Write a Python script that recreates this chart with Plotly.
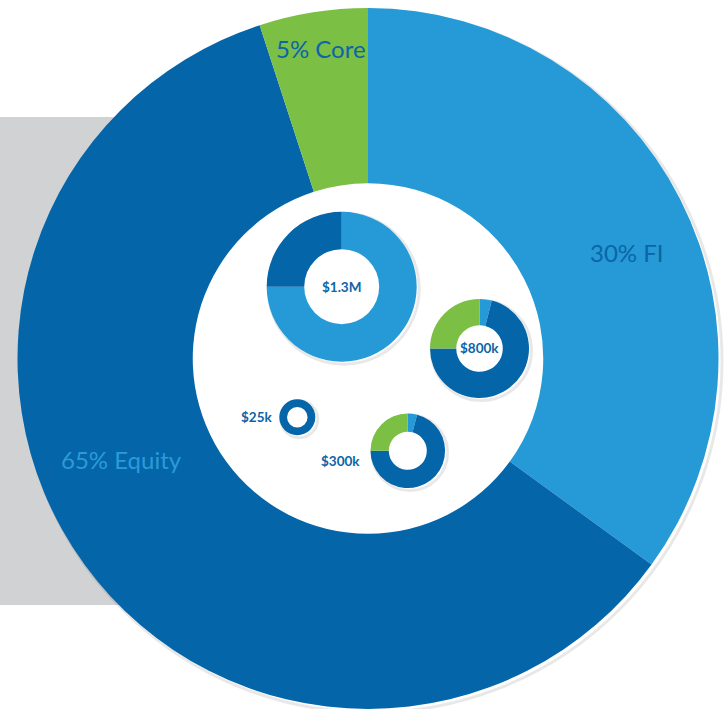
import plotly.graph_objects as go

W, H = 728, 709

# ---- data ----
slice_names = ["FI", "Equity", "Core"]
main_values = [35, 60, 5]                      # drawn shares of the big ring
main_labels = ["30% FI", "65% Equity", "5% Core"]

portfolio_names = ["$1.3M", "$800k", "$300k", "$25k"]
fi_share = [75, 4, 4, 0]
equity_share = [25, 71, 71, 100]
core_share = [0, 25, 25, 0]

# ---- styles / layout geometry ----
COLORS = ["#259AD6", "#0465A9", "#7BBF44"]
DARK = "#0B65A8"
LIGHT = "#2B9BD8"
GRAY = "#D1D2D4"
FONT = "Lato"

main_geom = dict(cx=368, cy=358.5, r=350.5, hole=0.5)
small_geom = [
    dict(cx=341.7, cy=286.7, r=75, hole=0.5),
    dict(cx=479.5, cy=348.5, r=49.5, hole=0.47),
    dict(cx=407.8, cy=450.8, r=37.3, hole=0.51),
    dict(cx=297.3, cy=417.2, r=18, hole=0.57),
]
small_label_pos = [(341.7, 287), (479.7, 348), (340, 461), (256, 417)]
main_label_pos = [(627, 252, DARK), (122, 459, LIGHT), (321, 48, DARK)]


def dom(g):
    cx, cy, r = g["cx"], g["cy"], g["r"]
    return dict(x=[max(0, (cx - r) / W), min(1, (cx + r) / W)],
                y=[max(0, 1 - (cy + r) / H), min(1, 1 - (cy - r) / H)])


def px(x, y):
    return x / W, 1 - y / H


fig = go.Figure()

fig.add_trace(go.Pie(
    labels=slice_names, values=main_values, hole=main_geom["hole"],
    sort=False, direction="clockwise", rotation=0,
    marker=dict(colors=COLORS, line=dict(width=0)),
    textinfo="none", hoverinfo="label+value", showlegend=False,
    domain=dom(main_geom),
))

for i, name in enumerate(portfolio_names):
    g = small_geom[i]
    fig.add_trace(go.Pie(
        labels=slice_names,
        values=[fi_share[i], equity_share[i], core_share[i]],
        hole=g["hole"], sort=False, direction="clockwise", rotation=0,
        marker=dict(colors=COLORS, line=dict(width=0)),
        textinfo="none", hoverinfo="label+value", showlegend=False,
        name=name, domain=dom(g),
    ))

annotations = []
for (x, y, c), t in zip(main_label_pos, main_labels):
    ax, ay = px(x, y)
    annotations.append(dict(x=ax, y=ay, xref="paper", yref="paper",
                            text=t, showarrow=False, xanchor="center",
                            yanchor="middle",
                            font=dict(family=FONT, size=24, color=c)))
for (x, y), t in zip(small_label_pos, portfolio_names):
    ax, ay = px(x, y)
    annotations.append(dict(x=ax, y=ay, xref="paper", yref="paper",
                            text="<b>" + t + "</b>", showarrow=False,
                            xanchor="center", yanchor="middle",
                            font=dict(family=FONT, size=13.5, color=DARK)))

shapes = [
    dict(type="rect", xref="paper", yref="paper", layer="below",
         x0=0, x1=px(150, 0)[0], y0=px(0, 605)[1], y1=px(0, 117)[1],
         fillcolor=GRAY, line=dict(width=0)),
]
# soft drop shadows
for g, off in [(main_geom, 3)] + [(s, 2) for s in small_geom]:
    cx, cy, r = g["cx"] + off, g["cy"] + off, g["r"] + 0.5
    x0, y0 = px(cx - r, cy + r)
    x1, y1 = px(cx + r, cy - r)
    shapes.append(dict(type="circle", xref="paper", yref="paper", layer="below",
                       x0=x0, x1=x1, y0=y0, y1=y1,
                       fillcolor="rgba(0,0,0,0)",
                       line=dict(color="rgba(0,0,0,0.09)", width=3)))

fig.update_layout(
    width=W, height=H,
    margin=dict(l=0, r=0, t=0, b=0),
    paper_bgcolor="white", plot_bgcolor="white",
    annotations=annotations, shapes=shapes,
    showlegend=False,
)

fig.write_html("out.html",
               config={"displayModeBar": False},
               post_script="document.body.style.margin='0px';"
                           "document.body.style.overflow='hidden';")
